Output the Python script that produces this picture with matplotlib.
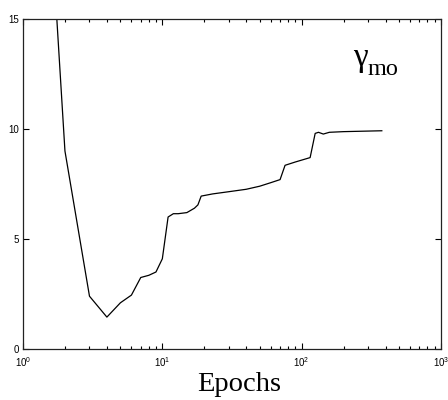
import numpy as np
import matplotlib.pyplot as plt
from matplotlib.ticker import LogLocator, FixedLocator

plt.rcParams['mathtext.fontset'] = 'custom'
plt.rcParams['mathtext.rm'] = 'Liberation Sans'
plt.rcParams['mathtext.it'] = 'Liberation Sans'

# gamma_mo over training epochs
epochs = [1, 2, 3, 4, 5, 6, 7, 8, 9, 10, 11, 12, 13, 15, 17, 18, 19, 23, 30,
          40, 50, 60, 70, 76, 90, 115, 125, 132, 143, 158, 200, 376]
gamma_mo = [40.0, 9.0, 2.4, 1.45, 2.1, 2.45, 3.25, 3.35, 3.5, 4.1, 6.0, 6.15,
            6.15, 6.2, 6.4, 6.55, 6.95, 7.05, 7.15, 7.26, 7.4, 7.56, 7.7,
            8.35, 8.5, 8.7, 9.8, 9.85, 9.77, 9.85, 9.88, 9.92]

y_ticks = [0, 5, 10, 15]
x_ticks = [1, 10, 100, 1000]
x_tick_labels = [r'$10^{0}$', r'$10^{1}$', r'$10^{2}$', r'$10^{3}$']

fig = plt.figure(figsize=(4.48, 4.0), dpi=100)
ax = fig.add_axes([23 / 448, 51 / 400, 418 / 448, 330 / 400])

ax.plot(epochs, gamma_mo, color='black', linewidth=0.9)

ax.set_xscale('log')
ax.set_xlim(1, 1000)
ax.set_ylim(0, 15)

ax.xaxis.set_major_locator(FixedLocator(x_ticks))
ax.xaxis.set_minor_locator(LogLocator(base=10, subs=np.arange(2, 10)))
ax.set_xticks(x_ticks)
ax.set_xticklabels(x_tick_labels)
ax.set_yticks(y_ticks)
ax.set_yticklabels([str(v) for v in y_ticks])

ax.tick_params(which='both', direction='in', top=True, right=True,
               width=0.8, colors='black', labelsize=7,
               labelfontfamily='Liberation Sans')
ax.tick_params(which='major', length=4)
ax.tick_params(axis='y', which='major', pad=3)
ax.tick_params(axis='x', which='major', pad=4.5)
ax.tick_params(which='minor', length=2.5)
for s in ax.spines.values():
    s.set_linewidth(0.9)
    s.set_color('#222222')

fig.text(239 / 448, 1 - 391 / 400, 'Epochs', family='Liberation Serif',
         fontsize=20.5, ha='center', va='baseline')

ax.text(353 / 448, 1 - 73 / 400, '\u03b3', transform=fig.transFigure,
        family='Liberation Serif', fontsize=24, ha='left', va='bottom')
ax.text(368 / 448, 1 - 75 / 400, 'mo', transform=fig.transFigure,
        family='Liberation Serif', fontsize=17.5, ha='left', va='baseline')

fig.savefig('out.png', dpi=100)
